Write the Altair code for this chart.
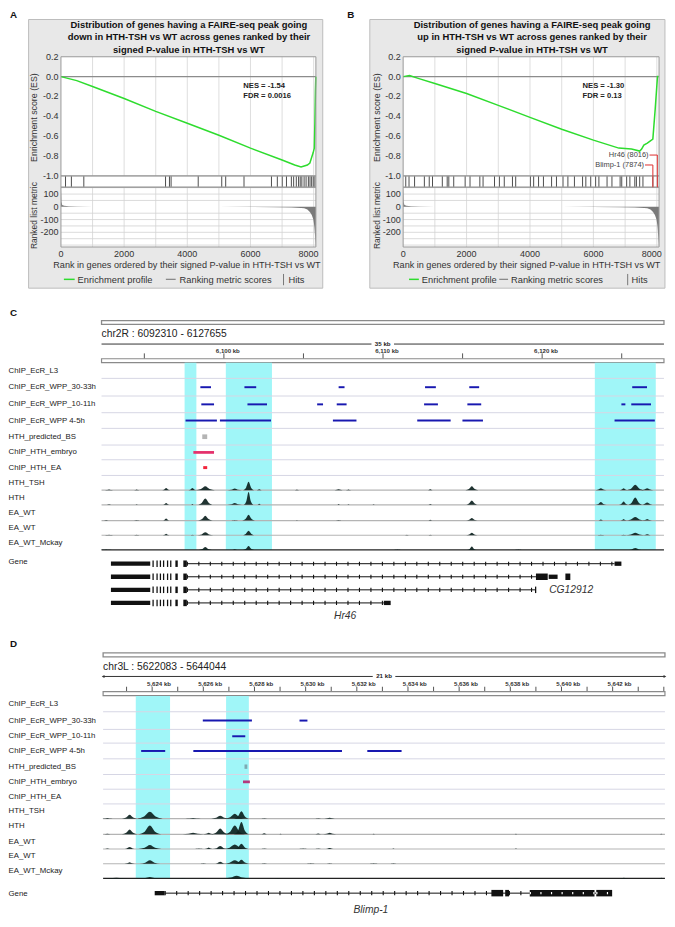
import altair as alt
import pandas as pd

S = 0.982
W, H = 659, 905
FONT = "Liberation Sans"


def PX(x):
    return round((x - 2) * S, 2)


def PY(y):
    return round((y - 3) * S, 2)


def fs(v):
    return round(v * S, 2)


# ===================== A / B : GSEA enrichment plots =====================
NMAX = 8070
es_a_rank = [0, 500, 1000, 2000, 3000, 4000, 5000, 6000, 7000, 7400, 7600, 7700, 7800, 7880, 7930, 7980, 8020, 8040, 8055, 8068]
es_a_val = [0.0, -0.04, -0.10, -0.22, -0.35, -0.47, -0.59, -0.72, -0.84, -0.89, -0.91, -0.90, -0.89, -0.87, -0.82, -0.77, -0.72, -0.45, -0.15, 0.0]
es_b_rank = [0, 200, 500, 1000, 2000, 3000, 4000, 5000, 6000, 6800, 7200, 7460, 7520, 7590, 7700, 7874, 7950, 8020, 8060]
es_b_val = [0.0, 0.01, -0.02, -0.07, -0.17, -0.29, -0.41, -0.53, -0.64, -0.72, -0.73, -0.75, -0.73, -0.69, -0.67, -0.63, -0.32, 0.0, 0.0]
metric_rank = [0, 15, 40, 100, 250, 500, 1000, 2000, 3000, 4000, 5000, 6000, 6800, 7300, 7600, 7700, 7800, 7880, 7940, 7990, 8020, 8045, 8070]
metric_val = [150, 40, 15, 8, 4, 2.5, 1.2, 0.5, 0.2, 0.0, -0.3, -1.0, -2.5, -5, -9, -12, -22, -40, -65, -100, -150, -230, -315]
hits_a = [145, 331, 724, 3311, 3435, 3487, 4345, 5090, 5215, 5795, 6664, 6850, 7005, 7139, 7294, 7366,
          7450, 7522, 7574, 7626, 7697, 7760, 7832, 7884, 7936, 7987, 8039]
hits_b = [82, 185, 360, 669, 823, 926, 1235, 1389, 1440, 1595, 1955, 2109, 2418, 2520, 2881, 3035, 3189,
          3447, 3549, 4012, 4115, 4270, 4424, 4681, 4835, 5041, 5195, 5401, 5658, 5761, 5915, 6070, 6173,
          6430, 6584, 6842, 6893, 7048, 7150, 7305, 7356, 7459, 7562, 7874, 8016]
named_b = ["Hr46 (8016)", "Blimp-1 (7874)"]
named_b_rank = [8016, 7874]
named_b_level = [-0.79, -0.89]
es_ticks = [0.2, 0.0, -0.2, -0.4, -0.6, -0.8, -1.0]
es_tick_text = ["0.2", "0.0", "-0.2", "-0.4", "-0.6", "-0.8", "-1.0"]
metric_ticks = [100, 0, -100, -200]
metric_tick_text = ["100", "0", "-100", "-200"]
rank_ticks = [0, 2000, 4000, 6000, 8000]
rank_grid = [1000, 2000, 3000, 4000, 5000, 6000, 7000, 8000]
metric_grid = [150, 100, 50, -50, -100, -150, -200, -250, -300]
title_a = ("Distribution of genes having a FAIRE-seq peak going\n"
           "down in HTH-TSH vs WT across genes ranked by their\n"
           "signed P-value in HTH-TSH vs WT")
title_b = ("Distribution of genes having a FAIRE-seq peak going\n"
           "up in HTH-TSH vs WT across genes ranked by their\n"
           "signed P-value in HTH-TSH vs WT")
nes_a = "NES = -1.54\nFDR = 0.0016"
nes_b = "NES = -1.30\nFDR = 0.13"

# ===================== track names =====================
track_names = ["ChIP_EcR_L3", "ChIP_EcR_WPP_30-33h", "ChIP_EcR_WPP_10-11h", "ChIP_EcR_WPP 4-5h",
               "HTH_predicted_BS", "ChIP_HTH_embryo", "ChIP_HTH_EA", "HTH_TSH", "HTH", "EA_WT",
               "EA_WT", "EA_WT_Mckay"]

# ===================== C : chr2R (kb) =====================
c_ticks = [6095, 6100, 6105, 6110, 6115, 6120, 6125]
c_tick_labels = [6100, 6110, 6120]
c_band_start = [6097.53, 6100.12, 6123.31]
c_band_end = [6098.27, 6103.02, 6127.14]
c_ecr_3033_start = [6098.52, 6101.29, 6107.21, 6112.64, 6115.42, 6125.66]
c_ecr_3033_end = [6099.19, 6102.03, 6107.58, 6113.32, 6116.04, 6126.59]
c_ecr_1011_start = [6098.58, 6101.48, 6105.86, 6107.09, 6112.58, 6115.30, 6124.98, 6125.60]
c_ecr_1011_end = [6099.38, 6102.71, 6106.23, 6107.71, 6113.45, 6116.17, 6125.23, 6126.84]
c_ecr_45_start = [6097.59, 6099.75, 6106.85, 6112.15, 6114.99, 6124.55]
c_ecr_45_end = [6099.56, 6102.96, 6108.33, 6114.25, 6116.28, 6127.08]
c_bs = [(6098.64, 6098.95)]
c_embryo = [(6098.08, 6099.38)]
c_ea = [(6098.70, 6098.95)]
# peaks: (centre kb, half width kb, height px)
c_hth_tsh = [(6092.78, 0.25, 0.6), (6094.52, 0.15, 0.6), (6096.37, 0.25, 2.2), (6098.02, 0.25, 2.2),
             (6098.83, 0.6, 4), (6100.68, 0.45, 1.8), (6101.55, 0.35, 8.5), (6102.22, 0.15, 1),
             (6104.59, 0.12, 0.6), (6107.21, 0.25, 1), (6107.83, 0.15, 0.6), (6112.97, 0.2, 0.8),
             (6115.58, 0.4, 4), (6123.69, 0.35, 2), (6125.12, 0.25, 2), (6125.85, 0.55, 5.5), (6126.6, 0.4, 2)]
c_hth = [(6092.78, 0.3, 0.6), (6094.52, 0.15, 0.6), (6096.37, 0.25, 2), (6098.02, 0.15, 0.8),
         (6098.83, 0.5, 6.5), (6100.68, 0.45, 1.8), (6101.55, 0.3, 13), (6102.22, 0.15, 1.2),
         (6107.21, 0.15, 0.8), (6107.83, 0.15, 0.6), (6109.41, 0.15, 0.6), (6112.97, 0.15, 1),
         (6115.58, 0.4, 4.5), (6123.69, 0.35, 3), (6125.12, 0.3, 3.5), (6125.85, 0.5, 7.5), (6126.6, 0.45, 2.5)]
c_ea_wt1 = [(6092.6, 0.3, 0.5), (6094.52, 0.15, 0.6), (6096.37, 0.25, 2), (6098.83, 0.45, 5),
            (6100.68, 0.2, 0.6), (6101.55, 0.4, 6), (6104.59, 0.1, 0.5), (6107.21, 0.15, 0.6),
            (6112.97, 0.15, 0.8), (6115.58, 0.35, 2.5), (6123.69, 0.2, 1), (6125.12, 0.2, 1.5),
            (6125.85, 0.6, 3.5), (6126.6, 0.3, 1.5)]
c_ea_wt2 = [(6092.78, 0.25, 0.5), (6094.52, 0.15, 0.5), (6096.37, 0.2, 1.5), (6098.02, 0.1, 0.5),
            (6098.83, 0.5, 3), (6101.55, 0.4, 4.5), (6111.5, 0.1, 0.5), (6112.97, 0.1, 0.5),
            (6115.58, 0.35, 2.5), (6123.69, 0.2, 0.6), (6125.12, 0.15, 0.6), (6125.85, 0.6, 2.5), (6126.6, 0.3, 1)]
c_mckay = [(6092.6, 0.35, 0.6), (6098.83, 0.4, 3), (6100.68, 0.2, 0.8), (6101.55, 0.35, 4),
           (6110.9, 0.2, 0.5), (6115.58, 0.3, 3.5), (6118.5, 0.2, 0.5), (6125.85, 0.5, 2)]
c_shared_exon_start = [6092.90, 6095.51, 6095.76, 6095.97, 6096.17, 6096.42, 6096.62, 6096.95, 6097.45]
c_shared_exon_end = [6095.37, 6095.59, 6095.84, 6096.05, 6096.25, 6096.50, 6096.70, 6097.10, 6097.67]
c_shared_exon_kind = ["utr", "cds", "cds", "cds", "cds", "cds", "cds", "cds", "cds"]
c_intron_start = [6097.67, 6097.67, 6097.67, 6097.67]
c_intron_end = [6124.55, 6119.61, 6119.61, 6110.05]
c_end_exon_tx = [0, 1, 1, 1, 2, 3]
c_end_exon_start = [6124.55, 6119.61, 6120.41, 6121.46, 6119.55, 6110.05]
c_end_exon_end = [6124.98, 6120.35, 6120.97, 6121.77, 6119.63, 6110.48]
c_end_exon_kind = ["utr", "cds", "utr", "cds", "cds", "utr"]

# ===================== D : chr3L (kb) =====================
d_ticks = list(range(5623, 5645))
d_tick_labels = [5624, 5626, 5628, 5630, 5632, 5634, 5636, 5638, 5640, 5642]
d_band_start = [5623.36, 5626.89]
d_band_end = [5624.70, 5627.78]
d_ecr_3033_start = [5625.98, 5629.76]
d_ecr_3033_end = [5627.90, 5630.07]
d_ecr_1011_start = [5627.13]
d_ecr_1011_end = [5627.64]
d_ecr_45_start = [5623.57, 5625.61, 5632.41]
d_ecr_45_end = [5624.51, 5631.42, 5633.75]
d_bs = [(5627.61, 5627.72)]
d_embryo = [(5627.55, 5627.82)]
d_hth_tsh = [(5622.25, 0.2, 0.6), (5623.12, 0.3, 4), (5623.91, 0.5, 7), (5625.6, 0.3, 0.6),
             (5626.66, 0.35, 3), (5627.23, 0.4, 5), (5627.49, 0.3, 7.5), (5628.38, 0.1, 0.5),
             (5630.49, 0.1, 0.5), (5630.94, 0.2, 1)]
d_hth = [(5622.25, 0.25, 0.6), (5623.12, 0.3, 5), (5623.91, 0.45, 9), (5625.6, 0.4, 1.5),
         (5626.21, 0.2, 1.5), (5626.66, 0.35, 6), (5627.23, 0.4, 9), (5627.49, 0.3, 12.5),
         (5628.38, 0.15, 1), (5629.02, 0.1, 0.5), (5630.49, 0.15, 0.8), (5630.94, 0.25, 1.5),
         (5632.66, 0.1, 0.5), (5638.22, 0.1, 0.5), (5643.90, 0.1, 0.5)]
d_ea_wt1 = [(5622.25, 0.2, 0.5), (5623.12, 0.25, 2), (5623.91, 0.45, 4), (5625.83, 0.15, 0.6),
            (5626.21, 0.15, 1.5), (5626.66, 0.3, 3), (5627.23, 0.45, 4.5), (5627.49, 0.3, 5.5),
            (5628.38, 0.1, 0.6), (5629.9, 0.15, 0.6), (5630.49, 0.1, 0.6), (5630.94, 0.2, 1),
            (5633.43, 0.1, 0.5), (5638.22, 0.1, 0.5)]
d_ea_wt2 = [(5623.12, 0.2, 1.5), (5623.91, 0.4, 3.5), (5626.0, 0.1, 0.6), (5626.66, 0.25, 2),
            (5627.23, 0.45, 3.5), (5627.49, 0.3, 4), (5628.38, 0.1, 0.5), (5630.2, 0.15, 0.6),
            (5630.94, 0.1, 0.5), (5632.66, 0.15, 0.6), (5633.43, 0.1, 0.6)]
d_mckay = [(5622.6, 0.6, 0.7), (5623.91, 0.4, 1.5), (5625.2, 0.1, 0.5), (5626.0, 0.1, 0.5),
           (5627.3, 0.5, 2.8), (5628.9, 0.1, 0.5), (5632.2, 0.1, 0.5), (5638.22, 0.1, 0.5),
           (5642.44, 0.15, 0.6), (5643.9, 0.1, 0.6)]
d_intron_start = [5624.49]
d_intron_end = [5641.36]
d_exon_start = [5624.10, 5637.26, 5637.80, 5638.76, 5641.36]
d_exon_end = [5624.49, 5637.72, 5637.95, 5641.29, 5641.98]
d_exon_kind = ["utr", "cds", "cds", "cds", "cds"]

# ===================== helpers =====================
one = pd.DataFrame({"k": [0]})


def vrect(x0, x1, y0, y1, **kw):
    return alt.Chart(one).mark_rect(**kw).encode(
        x=alt.value(PX(x0)), x2=alt.value(PX(x1)), y=alt.value(PY(y0)), y2=alt.value(PY(y1)))


def vtext(x, y, text, **kw):
    return alt.Chart(one).mark_text(**kw).encode(
        x=alt.value(PX(x)), y=alt.value(PY(y)), text=alt.value(text))


def vrule(x0, x1, y0, y1, **kw):
    enc = dict(x=alt.value(PX(x0)), y=alt.value(PY(y0)))
    if x1 is not None:
        enc["x2"] = alt.value(PX(x1))
    if y1 is not None:
        enc["y2"] = alt.value(PY(y1))
    return alt.Chart(one).mark_rule(**kw).encode(**enc)


def lin(dom, rng):
    return alt.Scale(domain=dom, range=rng, nice=False, zero=False)


layers = []

# ===================== GSEA panel builder =====================
TOP, ES_BOT, HIT_BOT, MET_BOT = 50, 171.5, 183, 244


def gsea(p, es_rank, es_val, hits, nes, title, named=None):
    L = []
    xs = lin([0, NMAX], [PX(p["left"]), PX(p["right"])])
    ys_es = lin([-1.0, 0.2], [PY(ES_BOT), PY(TOP)])
    ys_m = lin([-315, 154], [PY(MET_BOT), PY(HIT_BOT)])

    def XR(f):
        return alt.X(f, type="quantitative", scale=xs, axis=None)

    L.append(vtext(p["letter_x"], 7, p["letter"], align="left", baseline="middle",
                   fontSize=fs(10), fontWeight="bold", color="#111"))
    L.append(vrect(p["box0"], p["box1"], 12, 286, fill="#e8e8e8", stroke="#bdbdbd", strokeWidth=1))
    for y0, y1 in ((TOP, ES_BOT), (ES_BOT, HIT_BOT), (HIT_BOT, MET_BOT)):
        L.append(vrect(p["left"], p["right"], y0, y1, fill="white"))
    grid = pd.DataFrame({"r": rank_grid})
    for y0, y1 in ((TOP, ES_BOT), (HIT_BOT, MET_BOT)):
        L.append(alt.Chart(grid).mark_rule(color="#d6d6d6", strokeWidth=0.8).encode(
            x=XR("r"), y=alt.value(PY(y0)), y2=alt.value(PY(y1))))
    L.append(alt.Chart(pd.DataFrame({"v": metric_grid})).mark_rule(color="#d2d2d2", strokeWidth=0.8).encode(
        x=alt.value(PX(p["left"])), x2=alt.value(PX(p["right"])),
        y=alt.Y("v:Q", scale=ys_m, axis=None)))
    L.append(alt.Chart(pd.DataFrame({"v": [0.0]})).mark_rule(color="#8c8c8c", strokeWidth=1.3).encode(
        x=alt.value(PX(p["left"])), x2=alt.value(PX(p["right"])),
        y=alt.Y("v:Q", scale=ys_es, axis=None)))
    dm = pd.DataFrame({"r": metric_rank, "m": metric_val, "b": 0.0})
    L.append(alt.Chart(dm).mark_area(color="#7a7a7a").encode(
        x=XR("r"), y=alt.Y("m:Q", scale=ys_m, axis=None), y2="b"))
    L.append(alt.Chart(pd.DataFrame({"r": hits})).mark_rule(color="#3a3a3a", strokeWidth=0.9).encode(
        x=XR("r"), y=alt.value(PY(ES_BOT)), y2=alt.value(PY(HIT_BOT))))
    de = pd.DataFrame({"r": es_rank, "es": es_val})
    L.append(alt.Chart(de).mark_line(color="#2edc2e", strokeWidth=1.5).encode(
        x=XR("r"), y=alt.Y("es:Q", scale=ys_es, axis=None)))
    for y0, y1 in ((TOP, ES_BOT), (ES_BOT, HIT_BOT), (HIT_BOT, MET_BOT)):
        L.append(vrect(p["left"], p["right"], y0, y1, fillOpacity=0, stroke="#9a9a9a", strokeWidth=1))
    if named is not None:
        px_per_rank = (p["right"] - p["left"]) / NMAX
        dn = pd.DataFrame({"name": named[0], "r": named[1], "lvl": named[2]})
        dn["rl"] = dn["r"] - 8 / px_per_rank
        L.append(alt.Chart(dn).mark_rule(color="#e04040", strokeWidth=1.1).encode(
            x=XR("r"), x2="rl", y=alt.Y("lvl:Q", scale=ys_es, axis=None)))
        L.append(alt.Chart(dn).mark_rule(color="#e04040", strokeWidth=1.1).encode(
            x=XR("r"), y=alt.Y("lvl:Q", scale=ys_es, axis=None), y2=alt.value(PY(HIT_BOT))))
        L.append(alt.Chart(dn).mark_text(align="right", baseline="middle", fontSize=fs(7.6),
                                         color="#444", dx=-fs(9)).encode(
            x=XR("r"), y=alt.Y("lvl:Q", scale=ys_es, axis=None), text="name:N"))
    # tick labels
    L.append(alt.Chart(pd.DataFrame({"v": es_ticks, "t": es_tick_text})).mark_text(
        align="right", baseline="middle", fontSize=fs(9.2), color="#333").encode(
        x=alt.value(PX(p["left"] - 2.5)), y=alt.Y("v:Q", scale=ys_es, axis=None), text="t:N"))
    L.append(alt.Chart(pd.DataFrame({"v": metric_ticks, "t": metric_tick_text})).mark_text(
        align="right", baseline="middle", fontSize=fs(9.2), color="#333").encode(
        x=alt.value(PX(p["left"] - 2.5)), y=alt.Y("v:Q", scale=ys_m, axis=None), text="t:N"))
    rt = pd.DataFrame({"v": rank_ticks, "t": [str(v) for v in rank_ticks]})
    L.append(alt.Chart(rt.iloc[:-1]).mark_text(
        align="center", baseline="middle", fontSize=fs(9.2), color="#333").encode(
        x=XR("v"), y=alt.value(PY(251)), text="t:N"))
    L.append(alt.Chart(rt.iloc[-1:]).mark_text(
        align="right", baseline="middle", fontSize=fs(9.2), color="#333", dx=fs(5)).encode(
        x=XR("v"), y=alt.value(PY(251)), text="t:N"))
    # titles
    L.append(vtext(p["ytx"], 112, "Enrichment score (ES)", angle=270, align="center",
                   baseline="middle", fontSize=fs(9.0), color="#333"))
    L.append(vtext(p["ytx"], 212, "Ranked list metric", angle=270, align="center",
                   baseline="middle", fontSize=fs(8.6), color="#333"))
    L.append(vtext(p["xtx"], 262.5, "Rank in genes ordered by their signed P-value in HTH-TSH vs WT",
                   align="center", baseline="middle", fontSize=fs(9.3), color="#333"))
    L.append(vtext(p["title_cx"], 13.6, title, align="center", baseline="top", lineBreak="\n",
                   lineHeight=fs(12.5), fontSize=fs(9.6), fontWeight="bold", color="#111"))
    L.append(vtext(p["nes_x"], 76.2, nes, align="left", baseline="top", lineBreak="\n",
                   lineHeight=fs(10), fontSize=fs(7.8), fontWeight="bold", color="#222"))
    # legend
    L.append(vrule(p["lg"][0], p["lg"][1], 277, None, color="#2edc2e", strokeWidth=1.5))
    L.append(vtext(p["lt1"], 277.5, "Enrichment profile", align="left", baseline="middle",
                   fontSize=fs(9.5), color="#333"))
    L.append(vrule(p["lgr"][0], p["lgr"][1], 277, None, color="#8a8a8a", strokeWidth=1.3))
    L.append(vtext(p["lt2"], 277.5, "Ranking metric scores", align="left", baseline="middle",
                   fontSize=fs(9.5), color="#333"))
    L.append(vrule(p["lbar"], None, 271.5, 283, color="#777", strokeWidth=1))
    L.append(vtext(p["lt3"], 277.5, "Hits", align="left", baseline="middle",
                   fontSize=fs(9.5), color="#333"))
    return L


cfg_a = dict(letter="A", letter_x=4, box0=23, box1=323, left=56, right=316, title_cx=186.5,
             nes_x=242, ytx=29, xtx=184.5, lg=(59, 70), lt1=73, lgr=(163, 173), lt2=177,
             lbar=283, lt3=288)
cfg_b = dict(letter="B", letter_x=348, box0=371, box1=672, left=405, right=666, title_cx=536.5,
             nes_x=588, ytx=378, xtx=531, lg=(411, 421), lt1=424, lgr=(503, 512), lt2=515,
             lbar=634, lt3=638)
layers += gsea(cfg_a, es_a_rank, es_a_val, hits_a, nes_a, title_a)
layers += gsea(cfg_b, es_b_rank, es_b_val, hits_b, nes_b, title_b,
               named=(named_b, named_b_rank, named_b_level))


# ===================== genome browser panel builder =====================
def peak_df(peaks_by_track, bounds):
    rows = []
    pid = 0
    for t, plist in peaks_by_track.items():
        th = bounds[t + 1] - bounds[t]
        base = t + 1
        for c, hw, h in plist:
            hu = h / th
            for fx, fy in ((-1, 0), (-0.45, 0.3), (0, 1), (0.45, 0.3), (1, 0)):
                rows.append(dict(pid=pid, x=c + fx * hw, y=base - fy * hu, b=base))
            pid += 1
    return pd.DataFrame(rows)


def track_panel(c):
    L = []
    d0, d1 = c["dom"]
    xs = lin([d0, d1], [PX(c["x0"]), PX(c["x1"])])
    nb = len(c["bounds"])
    ys = lin(list(range(nb)), [PY(b) for b in c["bounds"]])
    px_per_kb = (c["x1"] - c["x0"]) / (d1 - d0)

    def XK(f):
        return alt.X(f, type="quantitative", scale=xs, axis=None)

    def YT(f):
        return alt.Y(f, type="quantitative", scale=ys, axis=None)

    L.append(vtext(4, c["letter_y"], c["letter"], align="left", baseline="middle",
                   fontSize=fs(10), fontWeight="bold", color="#111"))
    ends = pd.DataFrame({"s": [d0], "e": [d1]})
    # ideogram double line
    L.append(alt.Chart(ends).mark_rect(fill="white", stroke="#8a8a8a", strokeWidth=1.3).encode(
        x=XK("s"), x2="e", y=alt.value(PY(c["ideo"][0])), y2=alt.value(PY(c["ideo"][1]))))
    L.append(vtext(c["x0"], c["chr_y"], c["chr_text"], align="left", baseline="middle",
                   fontSize=fs(10.5), color="#222"))
    # scale bar with centred label
    mid = (d0 + d1) / 2
    gap = 11.5 / px_per_kb
    seg = pd.DataFrame({"s": [d0, mid + gap], "e": [mid - gap, d1]})
    L.append(alt.Chart(seg).mark_rule(color="#333", strokeWidth=1).encode(
        x=XK("s"), x2="e", y=alt.value(PY(c["scale_y"]))))
    L.append(alt.Chart(pd.DataFrame({"m": [mid]})).mark_text(
        align="center", baseline="middle", fontSize=fs(6.3), fontWeight="bold", color="#222").encode(
        x=XK("m"), y=alt.value(PY(c["scale_y"])), text=alt.value(c["scale_text"])))
    if c["arrows"]:
        L.append(alt.Chart(pd.DataFrame({"m": [d0]})).mark_point(
            shape="triangle-left", filled=True, size=10, color="#333", opacity=1).encode(
            x=XK("m"), y=alt.value(PY(c["scale_y"]))))
        L.append(alt.Chart(pd.DataFrame({"m": [d1]})).mark_point(
            shape="triangle-right", filled=True, size=10, color="#333", opacity=1).encode(
            x=XK("m"), y=alt.value(PY(c["scale_y"]))))
    # ruler ticks and labels
    L.append(alt.Chart(pd.DataFrame({"t": c["ticks"]})).mark_rule(color="#555", strokeWidth=1).encode(
        x=XK("t"), y=alt.value(PY(c["tick_y"][0])), y2=alt.value(PY(c["tick_y"][1]))))
    lab = pd.DataFrame({"t": c["tick_labels"], "s": ["{:,} kb".format(v) for v in c["tick_labels"]]})
    L.append(alt.Chart(lab).mark_text(align="center", baseline="middle", fontSize=fs(6.2),
                                      fontWeight="bold", color="#333", dx=fs(c["tick_dx"])).encode(
        x=XK("t"), y=alt.value(PY(c["ticklab_y"])), text="s:N"))
    L.append(alt.Chart(ends).mark_rect(fill="white", stroke="#8a8a8a", strokeWidth=1.2).encode(
        x=XK("s"), x2="e", y=alt.value(PY(c["box"][0])), y2=alt.value(PY(c["box"][1]))))
    # highlight bands
    bands = pd.DataFrame({"s": c["band_s"], "e": c["band_e"], "y0": 0, "y1": nb - 1})
    L.append(alt.Chart(bands).mark_rect(color="#a0f6f8").encode(
        x=XK("s"), x2="e", y=YT("y0"), y2="y1"))
    # separators
    L.append(alt.Chart(pd.DataFrame({"y": list(range(1, 8))})).mark_rule(
        color="#d6d6e4", strokeWidth=1).encode(
        x=alt.value(PX(c["x0"])), x2=alt.value(PX(c["x1"])), y=YT("y")))
    L.append(alt.Chart(pd.DataFrame({"y": list(range(8, nb - 1))})).mark_rule(
        color="#b4b4b4", strokeWidth=1.2).encode(
        x=alt.value(PX(c["x0"])), x2=alt.value(PX(c["x1"])), y=YT("y")))
    L.append(alt.Chart(pd.DataFrame({"y": [nb - 1]})).mark_rule(
        color="#222", strokeWidth=1.3).encode(
        x=alt.value(PX(c["x0"])), x2=alt.value(PX(c["x1"])), y=YT("y")))
    # EcR peaks
    rows = []
    for t, (ss, ee) in ((1, c["ecr1"]), (2, c["ecr2"]), (3, c["ecr3"])):
        for s, e in zip(ss, ee):
            rows.append(dict(s=s, e=e, y=t + 0.5))
    L.append(alt.Chart(pd.DataFrame(rows)).mark_rule(color="#1818b0", strokeWidth=fs(2)).encode(
        x=XK("s"), x2="e", y=YT("y")))
    # predicted binding sites
    bs = pd.DataFrame({"s": [a for a, b in c["bs"]], "e": [b for a, b in c["bs"]], "y0": 4.36, "y1": 4.64})
    L.append(alt.Chart(bs).mark_rect(color=c["bs_color"]).encode(x=XK("s"), x2="e", y=YT("y0"), y2="y1"))
    emb = pd.DataFrame({"s": [a for a, b in c["embryo"]], "e": [b for a, b in c["embryo"]], "y": 5.5})
    L.append(alt.Chart(emb).mark_rule(color=c["embryo_color"], strokeWidth=fs(2.8)).encode(
        x=XK("s"), x2="e", y=YT("y")))
    if c["ea"]:
        ea = pd.DataFrame({"s": [a for a, b in c["ea"]], "e": [b for a, b in c["ea"]], "y": 6.5})
        L.append(alt.Chart(ea).mark_rule(color="#f2243c", strokeWidth=fs(3)).encode(
            x=XK("s"), x2="e", y=YT("y")))
    # signal tracks
    pk = peak_df(c["peaks"], c["bounds"])
    L.append(alt.Chart(pk).mark_area(color="#0d2220", opacity=0.92, interpolate="monotone").encode(
        x=XK("x"), y=YT("y"), y2="b", detail="pid:N"))
    # labels
    tl = pd.DataFrame({"name": track_names, "y": [i + 0.5 for i in range(len(track_names))]})
    L.append(alt.Chart(tl).mark_text(align="left", baseline="middle", fontSize=fs(8.0), color="#222").encode(
        x=alt.value(PX(2.5)), y=YT("y"), text="name:N"))
    L.append(vtext(2.5, c["gene_label_y"], "Gene", align="left", baseline="middle",
                   fontSize=fs(8.0), color="#222"))
    # gene models
    gs = lin([0, c["gene_rows"][0]], [PY(c["gene_rows"][1]), PY(c["gene_rows"][2])])

    def YG(f):
        return alt.Y(f, type="quantitative", scale=gs, axis=None)

    intr = pd.DataFrame({"s": c["intron_s"], "e": c["intron_e"], "r": list(range(len(c["intron_s"])))})
    L.append(alt.Chart(intr).mark_rule(color="#111", strokeWidth=1).encode(x=XK("s"), x2="e", y=YG("r")))
    L.append(alt.Chart(intr).mark_rule(color="#111", strokeWidth=fs(4.2),
                                       strokeDash=[fs(1.1), fs(10.6)]).encode(x=XK("s"), x2="e", y=YG("r")))
    ex = pd.DataFrame({"s": c["exon_s"], "e": c["exon_e"], "r": c["exon_r"], "k": c["exon_k"]})
    L.append(alt.Chart(ex[ex.k == "utr"]).mark_rule(color="#111", strokeWidth=fs(4.4)).encode(
        x=XK("s"), x2="e", y=YG("r")))
    L.append(alt.Chart(ex[ex.k == "cds"]).mark_rule(color="#111", strokeWidth=fs(6.6)).encode(
        x=XK("s"), x2="e", y=YG("r")))
    if c.get("chevrons"):
        chv = ex[ex.k == "cds"].iloc[-2:]
        L.append(alt.Chart(chv).mark_rule(color="white", strokeWidth=fs(2.4),
                                          strokeDash=[fs(1.2), fs(9.6)]).encode(
            x=XK("s"), x2="e", y=YG("r")))
    gl = pd.DataFrame({"x": [g[0] for g in c["gene_labels"]], "r": [g[1] for g in c["gene_labels"]],
                       "t": [g[2] for g in c["gene_labels"]], "a": [g[3] for g in c["gene_labels"]]})
    for a in ("left", "center"):
        sub = gl[gl.a == a]
        if len(sub):
            L.append(alt.Chart(sub).mark_text(align=a, baseline="middle", fontSize=fs(10.5),
                                              fontStyle="italic", color="#333").encode(
                x=XK("x"), y=YG("r"), text="t:N"))
    return L


# assemble C exons per transcript
c_exon_s, c_exon_e, c_exon_r, c_exon_k = [], [], [], []
for r in range(4):
    c_exon_s += c_shared_exon_start
    c_exon_e += c_shared_exon_end
    c_exon_k += c_shared_exon_kind
    c_exon_r += [r] * len(c_shared_exon_start)
c_exon_s += c_end_exon_start
c_exon_e += c_end_exon_end
c_exon_k += c_end_exon_kind
c_exon_r += c_end_exon_tx

cfg_c = dict(
    letter="C", letter_y=311, dom=(6092.310, 6127.655), x0=97.4, x1=671,
    bounds=[362, 378, 396, 413, 429, 446, 461, 477, 492, 507, 523, 538, 553],
    ideo=(319, 323), chr_y=333, chr_text="chr2R : 6092310 - 6127655", scale_y=343,
    scale_text="35 kb", arrows=False, ticks=c_ticks, tick_labels=c_tick_labels, tick_dx=4,
    ticklab_y=349.8, tick_y=(352.5, 358), box=(358, 362),
    band_s=c_band_start, band_e=c_band_end,
    ecr1=(c_ecr_3033_start, c_ecr_3033_end), ecr2=(c_ecr_1011_start, c_ecr_1011_end),
    ecr3=(c_ecr_45_start, c_ecr_45_end), bs=c_bs, bs_color="#b4b4b4", embryo=c_embryo,
    embryo_color="#e4306c", ea=c_ea,
    peaks={7: c_hth_tsh, 8: c_hth, 9: c_ea_wt1, 10: c_ea_wt2, 11: c_mckay},
    gene_label_y=565, gene_rows=(3, 567, 607),
    intron_s=c_intron_start, intron_e=c_intron_end,
    exon_s=c_exon_s, exon_e=c_exon_e, exon_r=c_exon_r, exon_k=c_exon_k,
    gene_labels=[(6120.44, 2, "CG12912", "left"), (6107.62, 4, "Hr46", "center")],
)
cfg_d = dict(
    letter="D", letter_y=649, dom=(5622.083, 5644.044), x0=99, x1=672,
    bounds=[702, 718, 736, 750, 766, 782, 797, 812, 827, 843, 858, 873, 888],
    ideo=(658, 662), chr_y=672, chr_text="chr3L : 5622083 - 5644044", scale_y=682,
    scale_text="21 kb", arrows=True, ticks=d_ticks, tick_labels=d_tick_labels, tick_dx=7,
    ticklab_y=689.8, tick_y=(692.5, 698), box=(697.5, 701.5),
    band_s=d_band_start, band_e=d_band_end,
    ecr1=(d_ecr_3033_start, d_ecr_3033_end), ecr2=(d_ecr_1011_start, d_ecr_1011_end),
    ecr3=(d_ecr_45_start, d_ecr_45_end), bs=d_bs, bs_color="#7eaab2", embryo=d_embryo,
    embryo_color="#b4387c", ea=[],
    peaks={7: d_hth_tsh, 8: d_hth, 9: d_ea_wt1, 10: d_ea_wt2, 11: d_mckay},
    gene_label_y=904, gene_rows=(1, 903, 920),
    intron_s=d_intron_start, intron_e=d_intron_end,
    exon_s=d_exon_start, exon_e=d_exon_end, exon_r=[0] * len(d_exon_start), exon_k=d_exon_kind,
    chevrons=True,
    gene_labels=[(5632.55, 1, "Blimp-1", "center")],
)
layers += track_panel(cfg_c)
layers += track_panel(cfg_d)

chart = (
    alt.layer(*layers)
    .resolve_scale(x="independent", y="independent")
    .properties(width=W, height=H, padding=0, background="white")
    .configure_view(stroke=None)
    .configure_text(font=FONT)
)
chart.save("out.html", embed_options={"renderer": "svg", "actions": False})
